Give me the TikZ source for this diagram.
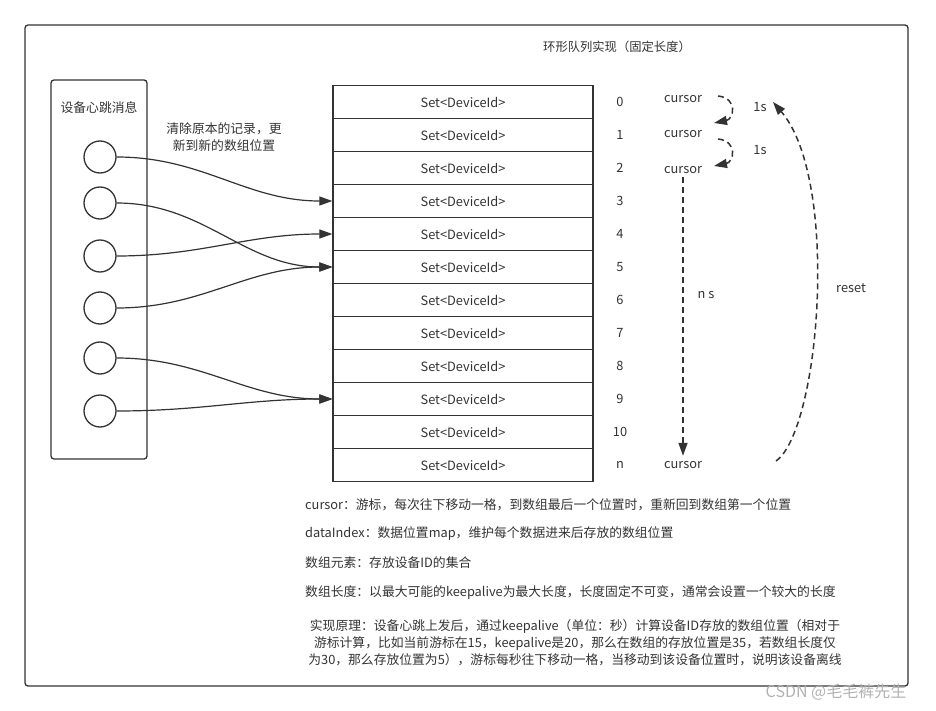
\documentclass[tikz,border=0pt]{standalone}
\usepackage{fontspec}
\setmainfont{Noto Sans CJK SC}
\usetikzlibrary{positioning, arrows.meta}

\definecolor{ink}{HTML}{333333}

\begin{document}
\begin{tikzpicture}[
    x=1pt, y=-1pt,
    every node/.style={font=\fontsize{12.8}{17}\selectfont, text=ink},
    frame/.style={draw=ink, line width=1.3pt, rounded corners=3pt},
    cell/.style={draw=ink, line width=1.3pt, minimum width=260pt, minimum height=33pt, inner sep=0pt},
    idx/.style={inner sep=1pt},
    beat/.style={draw=ink, circle, line width=1.3pt, minimum size=32pt, inner sep=0pt},
    move/.style={draw=ink, line width=1.2pt, -{Triangle[length=13pt, width=9pt]}},
    tick/.style={draw=ink, line width=1.5pt, dash pattern=on 6pt off 4pt, -{Triangle[length=13pt, width=9pt]}},
    note/.style={anchor=west, inner sep=0pt}
]
    \useasboundingbox (0,0) rectangle (936,711);

    % Outer frame and title
    \draw[frame] (25,25) rectangle (908,686);
    \node[font=\fontsize{12.3}{15}\selectfont] (title) at (617,47) {环形队列实现（固定长度）};

    % Heartbeat messages
    \draw[frame] (51,80) rectangle (147,459);
    \node (hb) at (99,108) {设备心跳消息};
    \node[beat] (m1) at (100,157) {};
    \node[beat] (m2) at (100,203) {};
    \node[beat] (m3) at (100,256) {};
    \node[beat] (m4) at (100,308) {};
    \node[beat] (m5) at (100,358) {};
    \node[beat] (m6) at (100,411) {};
    \node[align=center] (clear) at (224,137) {清除原本的记录，更\\新到新的数组位置};

    % Ring slots
    \foreach \i/\t in {0/0,1/1,2/2,3/3,4/4,5/5,6/6,7/7,8/8,9/9,10/10,11/n} {
        \node[cell] (r\i) at (463, 102+33*\i) {Set<DeviceId>};
        \node[idx] (n\i) at (620, 102+33*\i) {\t};
    }

    % Heartbeats moved to new slots
    \draw[move] (m1.east) to[out=0, in=180] (r3.west);
    \draw[move] (m2.east) to[out=0, in=180] (r5.west);
    \draw[move] (m3.east) to[out=0, in=180] (r4.west);
    \draw[move] (m4.east) to[out=0, in=180] (r5.west);
    \draw[move] (m5.east) to[out=0, in=180] (r9.west);
    \draw[move] (m6.east) to[out=0, in=180] (r9.west);

    % Cursor positions
    \node (c0) at (683,99) {cursor};
    \node (c1) at (683,134) {cursor};
    \node (c2) at (683,170) {cursor};
    \node (cn) at (683,465) {cursor};

    % One step per second
    \coordinate (s0) at (718,96);
    \coordinate (e0) at (714,123);
    \coordinate (s1) at (718,139);
    \coordinate (e1) at (714,166);
    \draw[tick] (s0) .. controls +(20,2) and +(20,-4) .. (e0);
    \draw[tick] (s1) .. controls +(20,2) and +(20,-4) .. (e1);
    \node (t0) at (760,107) {1s};
    \node (t1) at (760,150) {1s};

    % n steps, then back to the top
    \draw[tick] (c2.south) -- ([yshift=2pt]cn.north);
    \node (ns) at (706,295) {n s};
    \coordinate (rs) at (776,461);
    \coordinate (re) at (773,102);
    \draw[tick] (rs) .. controls (820,430) and (840,180) .. (re);
    \node (reset) at (851,288) {reset};

    % Notes below
    \node[note] (k1) at (305,505) {cursor：游标，每次往下移动一格，到数组最后一个位置时，重新回到数组第一个位置};
    \node[note] (k2) at (305,534) {dataIndex：数据位置map，维护每个数据进来后存放的数组位置};
    \node[note] (k3) at (305,563) {数组元素：存放设备ID的集合};
    \node[note] (k4) at (305,593) {数组长度：以最大可能的keepalive为最大长度，长度固定不可变，通常会设置一个较大的长度};
    \node[align=center, inner sep=0pt] (k5) at (575,643) {实现原理：设备心跳上发后，通过keepalive（单位：秒）计算设备ID存放的数组位置（相对于\\ 游标计算，比如当前游标在15，keepalive是20，那么在数组的存放位置是35，若数组长度仅\\为30，那么存放位置为5），游标每秒往下移动一格，当移动到该设备位置时，说明该设备离线};

    % Watermark
    \node[text=gray!60, font=\fontsize{16}{18}\selectfont] (wm) at (836,692) {CSDN @毛毛裤先生};
\end{tikzpicture}
\end{document}
